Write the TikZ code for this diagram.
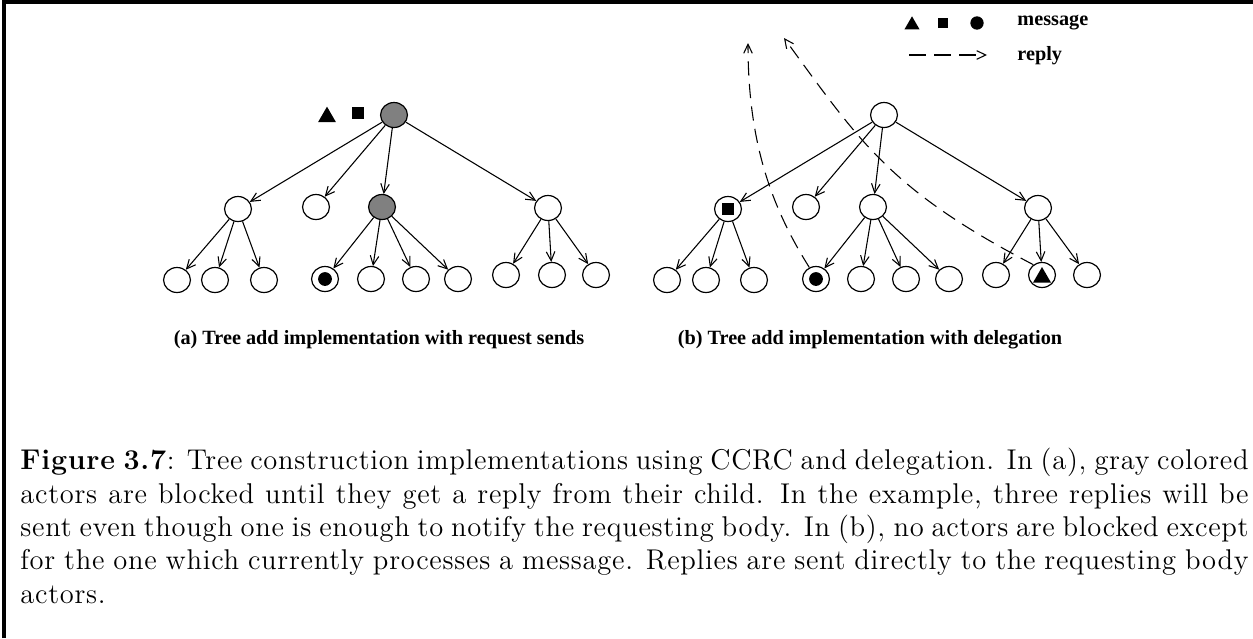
\documentclass[tikz,border=0pt]{standalone}
\usepackage{fontspec}
\newfontfamily\timesfont{Liberation Serif}
\newfontfamily\capfont{Latin Modern Roman}[LetterSpace=2.5]
\usetikzlibrary{arrows.meta, shapes.geometric}

\begin{document}
\begin{tikzpicture}[
    x=0.42pt, y=-0.42pt,
    >={Straight Barb[length=3.8pt, width=3.6pt]},
    actor style/.style={ellipse, draw, line width=0.5pt, minimum width=11.3pt, minimum height=10.5pt, inner sep=0pt},
    blocked style/.style={actor style, fill=gray},
    edge style/.style={line width=0.45pt, ->},
    reply style/.style={line width=0.45pt, dash pattern=on 6pt off 3.5pt, ->},
    dot style/.style={circle, fill=black, minimum size=5.8pt, inner sep=0pt},
    box style/.style={rectangle, fill=black, minimum size=4.8pt, inner sep=0pt},
    tri style/.style={regular polygon, regular polygon sides=3, fill=black, minimum size=8.7pt, inner sep=0pt},
    label style/.style={font=\timesfont\bfseries\fontsize{8.5}{10}\selectfont}
]

\useasboundingbox (0,0) rectangle (1253,638);

% Draw the frame
\draw[line width=1.3pt] (4,638) -- (4,2) -- (1253,2);

% Tree (a): request sends
\node[blocked style] (a0) at (394,115) {};
\node[actor style] (a1) at (238,209) {};
\node[actor style] (a2) at (316,207) {};
\node[blocked style] (a3) at (382,207) {};
\node[actor style] (a4) at (548,208) {};
\foreach \n/\x in {1/177,2/215,3/264} {
    \node[actor style] (a1\n) at (\x,280) {};
}
\foreach \n/\x in {1/325,2/371,3/416,4/458} {
    \node[actor style] (a3\n) at (\x,279) {};
}
\foreach \n/\x in {1/506,2/552,3/596} {
    \node[actor style] (a4\n) at (\x,275) {};
}

% Tree (b): delegation
\node[actor style] (b0) at (884,115) {};
\node[actor style] (b1) at (728,209) {};
\node[actor style] (b2) at (806,207) {};
\node[actor style] (b3) at (873,207) {};
\node[actor style] (b4) at (1038,208) {};
\foreach \n/\x in {1/667,2/706,3/754} {
    \node[actor style] (b1\n) at (\x,280) {};
}
\foreach \n/\x in {1/816,2/861,3/906,4/949} {
    \node[actor style] (b3\n) at (\x,279) {};
}
\foreach \n/\x in {1/996,2/1042,3/1087} {
    \node[actor style] (b4\n) at (\x,275) {};
}

% Draw the edges of both trees
\foreach \t in {a,b} {
    \foreach \c in {1,2,3,4} {
        \draw[edge style] (\t0) -- (\t\c);
    }
    \foreach \p/\c in {1/11,1/12,1/13,3/31,3/32,3/33,3/34,4/41,4/42,4/43} {
        \draw[edge style] (\t\p) -- (\t\c);
    }
}

% Messages
\node[tri style] (atri) at (327,117) {};
\node[box style] (abox) at (358,113) {};
\node[dot style] (adot) at (a31) {};
\node[box style] (bbox) at (b1) {};
\node[dot style] (bdot) at (b31) {};
\node[tri style, yshift=-1pt] (btri) at (b42) {};

% Replies
\coordinate (r1) at (748,43);
\coordinate (r2) at (784,38);
\draw[reply style] (b31.120) .. controls (770,205) and (748,140) .. (r1);
\draw[reply style] (b42.130) .. controls (890,190) and (860,142) .. (r2);

% Legend
\node[tri style, minimum size=7.3pt] (ltri) at (912,25) {};
\node[box style, minimum size=4.6pt] (lbox) at (943,23) {};
\node[dot style, minimum size=5.6pt] (ldot) at (977,23) {};
\node[label style, anchor=west, inner sep=0pt] (lmsg) at (1017,23) {message};
\coordinate (lrs) at (909,55);
\coordinate (lre) at (987,55);
\draw[reply style, dash pattern=on 7pt off 3.5pt] (lrs) -- (lre);
\node[label style, anchor=west, inner sep=0pt] (lrep) at (1017,56) {reply};

% Sub captions
\node[label style] (capa) at (379,340) {(a) Tree add implementation with request sends};
\node[label style] (capb) at (870,340) {(b) Tree add implementation with delegation};

% Caption
\node[anchor=north west, inner sep=0pt, text width=515.8pt, align=justify,
      font=\capfont\fontsize{12}{14}\selectfont] (cap) at (20,448) {\hyphenpenalty=10000\relax
\textbf{Figure 3.7}: Tree construction implementations using CCRC and delegation. In (a), gray colored\linebreak
actors are blocked until they get a reply from their child. In the example, three replies will be\linebreak
sent even though one is enough to notify the requesting body. In (b), no actors are blocked except\linebreak
for the one which currently processes a message. Replies are sent directly to the requesting body\linebreak
actors.};
\end{tikzpicture}
\end{document}
